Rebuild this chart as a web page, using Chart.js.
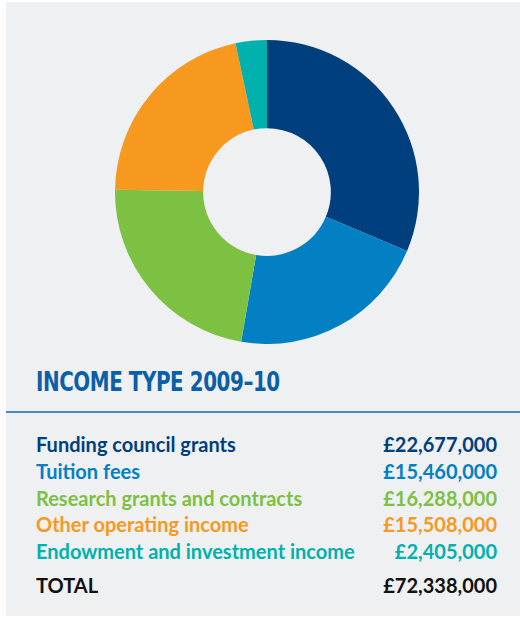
<!DOCTYPE html>
<html>
<head>
<meta charset="utf-8">
<script src="https://cdn.jsdelivr.net/npm/chart.js@4"></script>
<style>
  html, body { margin: 0; padding: 0; background: #ffffff; }
  #panel {
    position: absolute; left: 6px; top: 2px; width: 514px; height: 614px;
    background: #eff0f2;
  }
  #chartBox { position: absolute; left: 109px; top: 38px; width: 304px; height: 304px; }
  #title {
    position: absolute; left: 30px; top: 365px;
    font-family: 'DejaVu Sans Condensed', 'DejaVu Sans', sans-serif;
    font-weight: bold; font-size: 26px; color: #0a5fa8;
    letter-spacing: -0.5px; white-space: nowrap;
    transform: scaleX(0.85); transform-origin: left top;
  }
  #rule { position: absolute; left: 0; top: 409px; width: 514px; height: 2px; background: #4b88c6; }
  #table {
    position: absolute; left: 30px; top: 429px; width: 461px;
    font-family: Lato, 'Open Sans', sans-serif; font-weight: bold; font-size: 20px;
  }
  .row { display: flex; justify-content: space-between; height: 26.8px; line-height: 26.8px; white-space: nowrap; }
  .row.total { margin-top: 7px; color: #111111; }
</style>
</head>
<body>
<div id="panel">
  <div id="chartBox"><canvas id="incomeChart"></canvas></div>
  <div id="title">INCOME TYPE 2009–10</div>
  <div id="rule"></div>
  <div id="table"></div>
</div>
<script>
// Données du graphique
const categories = [
    'Funding council grants',
    'Tuition fees',
    'Research grants and contracts',
    'Other operating income',
    'Endowment and investment income'
];
const incomeValues = [22677000, 15460000, 16288000, 15508000, 2405000];
const sliceColors = ['#003f7d', '#037fc3', '#7dc143', '#f7981f', '#00b1ad'];
const totalLabel = 'TOTAL';
const totalValue = 72338000;

function formatPounds(v) {
    return '£' + v.toLocaleString('en-GB');
}

// Tableau des montants
const table = document.getElementById('table');
categories.forEach((name, i) => {
    const row = document.createElement('div');
    row.className = 'row';
    row.style.color = sliceColors[i];
    row.innerHTML = '<span>' + name + '</span><span>' + formatPounds(incomeValues[i]) + '</span>';
    table.appendChild(row);
});
const totalRow = document.createElement('div');
totalRow.className = 'row total';
totalRow.innerHTML = '<span>' + totalLabel + '</span><span>' + formatPounds(totalValue) + '</span>';
table.appendChild(totalRow);

// Graphique en anneau
new Chart(document.getElementById('incomeChart'), {
    type: 'doughnut',
    data: {
        labels: categories,
        datasets: [{
            data: incomeValues,
            backgroundColor: sliceColors,
            borderWidth: 0
        }]
    },
    options: {
        responsive: true,
        maintainAspectRatio: false,
        animation: false,
        cutout: '42%',
        layout: { padding: 0 },
        plugins: {
            legend: { display: false },
            tooltip: { enabled: false }
        }
    }
});
</script>
</body>
</html>
